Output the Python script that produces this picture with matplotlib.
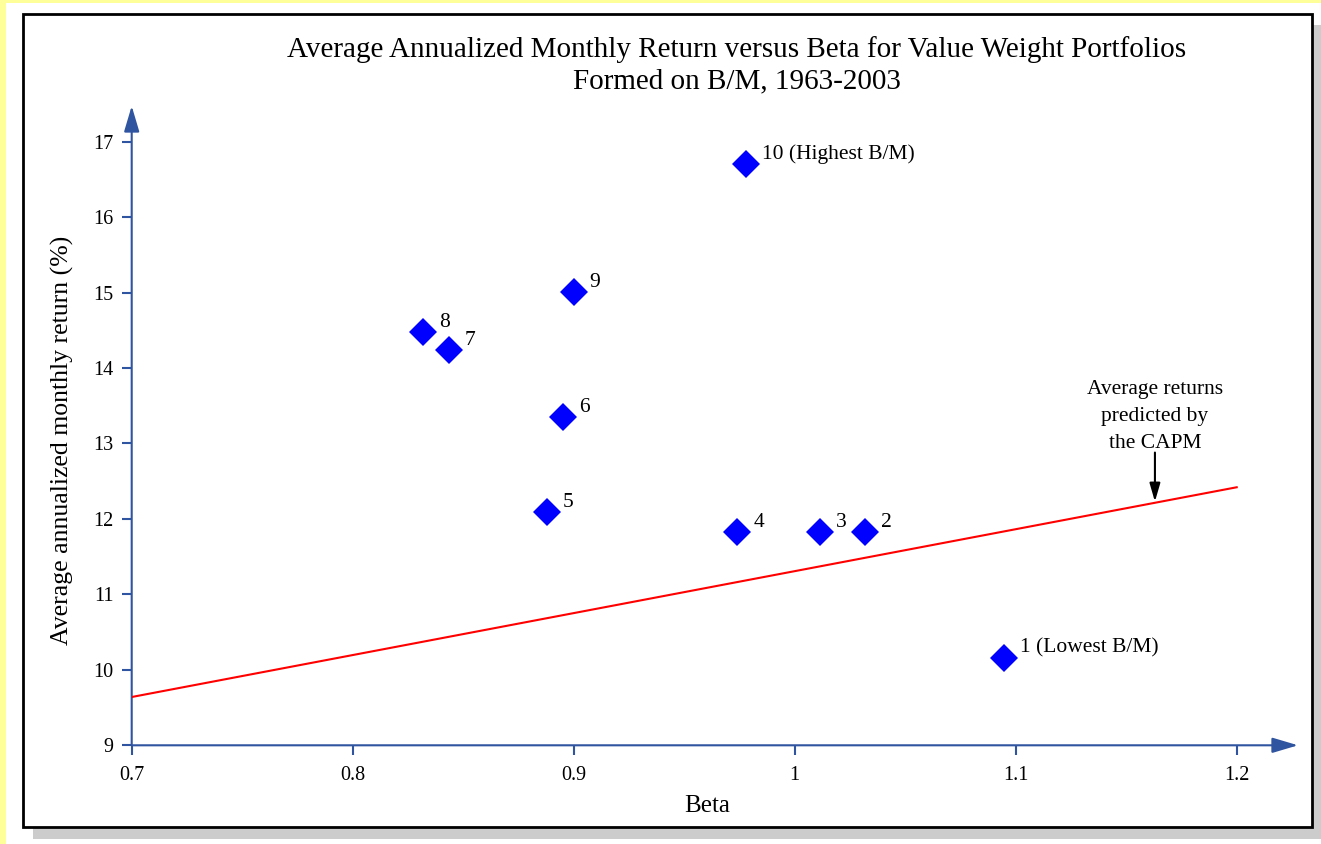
import matplotlib
matplotlib.use('Agg')
import matplotlib.pyplot as plt
from matplotlib.patches import Rectangle, FancyArrowPatch

# data
portfolio_labels = ['1 (Lowest B/M)', '2', '3', '4', '5', '6', '7', '8', '9', '10 (Highest B/M)']
beta = [1.0945, 1.032, 1.0116, 0.974, 0.888, 0.895, 0.8436, 0.832, 0.900, 0.978]
avg_return = [10.16, 11.83, 11.83, 11.83, 12.09, 13.35, 14.24, 14.48, 15.01, 16.70]

capm_beta = [0.7, 1.2]
capm_return = [9.64, 12.42]

x_ticks = [0.7, 0.8, 0.9, 1.0, 1.1, 1.2]
x_tick_labels = ['0.7', '0.8', '0.9', '1', '1.1', '1.2']
y_ticks = [9, 10, 11, 12, 13, 14, 15, 16, 17]

W, H = 1321, 844
plt.rcParams['font.family'] = ['Liberation Serif', 'DejaVu Serif']
axis_color = '#2f54a0'

fig = plt.figure(figsize=(W / 100, H / 100), dpi=100)
fig.patch.set_facecolor('#ffff99')


def fx(px):
    return px / W


def fy(py):
    return 1 - py / H


# white page, shadow and framed panel
fig.patches.append(Rectangle((fx(6), 0), 1 - fx(6), fy(3), transform=fig.transFigure,
                             facecolor='white', edgecolor='none', zorder=0))
fig.patches.append(Rectangle((fx(33), fy(839)), fx(1322 - 33), (839 - 25) / H, transform=fig.transFigure,
                             facecolor='#cccccc', edgecolor='none', zorder=0))
fig.patches.append(Rectangle((fx(23), fy(827)), fx(1312 - 23), (827 - 14) / H, transform=fig.transFigure,
                             facecolor='white', edgecolor='black', linewidth=2, zorder=1))

# axes placed by pixels
x0, x1 = 131.7, 1298
y0, y1 = 745.3, 106
ax = fig.add_axes([fx(x0), fy(y0), fx(x1 - x0), (y0 - y1) / H], zorder=2)
ax.set_facecolor('none')
ax.set_xlim(0.7, 0.7 + (x1 - x0) / 2210)
ax.set_ylim(9, 17 + (141.7 - y1) / 75.45)
for s in ax.spines.values():
    s.set_visible(False)

xmax = ax.get_xlim()[1]
ymax = ax.get_ylim()[1]
for end in [(xmax, 9), (0.7, ymax)]:
    arr = FancyArrowPatch((0.7, 9), end, arrowstyle='-|>,head_length=15.8,head_width=4.7',
                          mutation_scale=1, color=axis_color, linewidth=1.5,
                          shrinkA=0, shrinkB=0, clip_on=False, zorder=3)
    ax.add_patch(arr)

ax.set_xticks(x_ticks)
ax.set_xticklabels(x_tick_labels)
ax.set_yticks(y_ticks)
ax.tick_params(axis='both', direction='out', length=7.2, width=1.5, color=axis_color,
               labelsize=14.5, labelcolor='black')
ax.tick_params(axis='x', pad=8)
ax.tick_params(axis='y', pad=6)

# CAPM line
ax.plot(capm_beta, capm_return, color='red', linewidth=1.5, zorder=4)

# portfolios
ax.plot(beta, avg_return, linestyle='none', marker='D', markersize=14.5, color='blue',
        markeredgewidth=0, zorder=5, clip_on=False)
for b, r, lab in zip(beta, avg_return, portfolio_labels):
    ax.annotate(lab, (b, r), xytext=(16, 5), textcoords='offset pixels',
                ha='left', va='baseline', fontsize=15.5)

ax.annotate('', xy=(1.163, 12.23), xytext=(1.163, 12.88),
            arrowprops=dict(arrowstyle='-|>,head_length=1.1,head_width=0.32', color='black',
                            lw=1.5, shrinkA=0, shrinkB=0))
ax.text(1.163, 13.36, 'Average returns\npredicted by\nthe CAPM', ha='center', va='center',
        multialignment='center', fontsize=15.5, linespacing=1.55)

fig.text(fx(737), fy(65.5), 'Average Annualized Monthly Return versus Beta for Value Weight Portfolios\n'
         'Formed on B/M, 1963-2003', ha='center', va='center', fontsize=21, linespacing=1.27)
fig.text(fx(707), fy(806), 'Beta', ha='center', va='center', fontsize=18)
fig.text(fx(62), fy(440), 'Average annualized monthly return (%)', ha='center', va='center',
         rotation=90, fontsize=18.5)

fig.savefig('out.png', dpi=100, facecolor=fig.get_facecolor())
